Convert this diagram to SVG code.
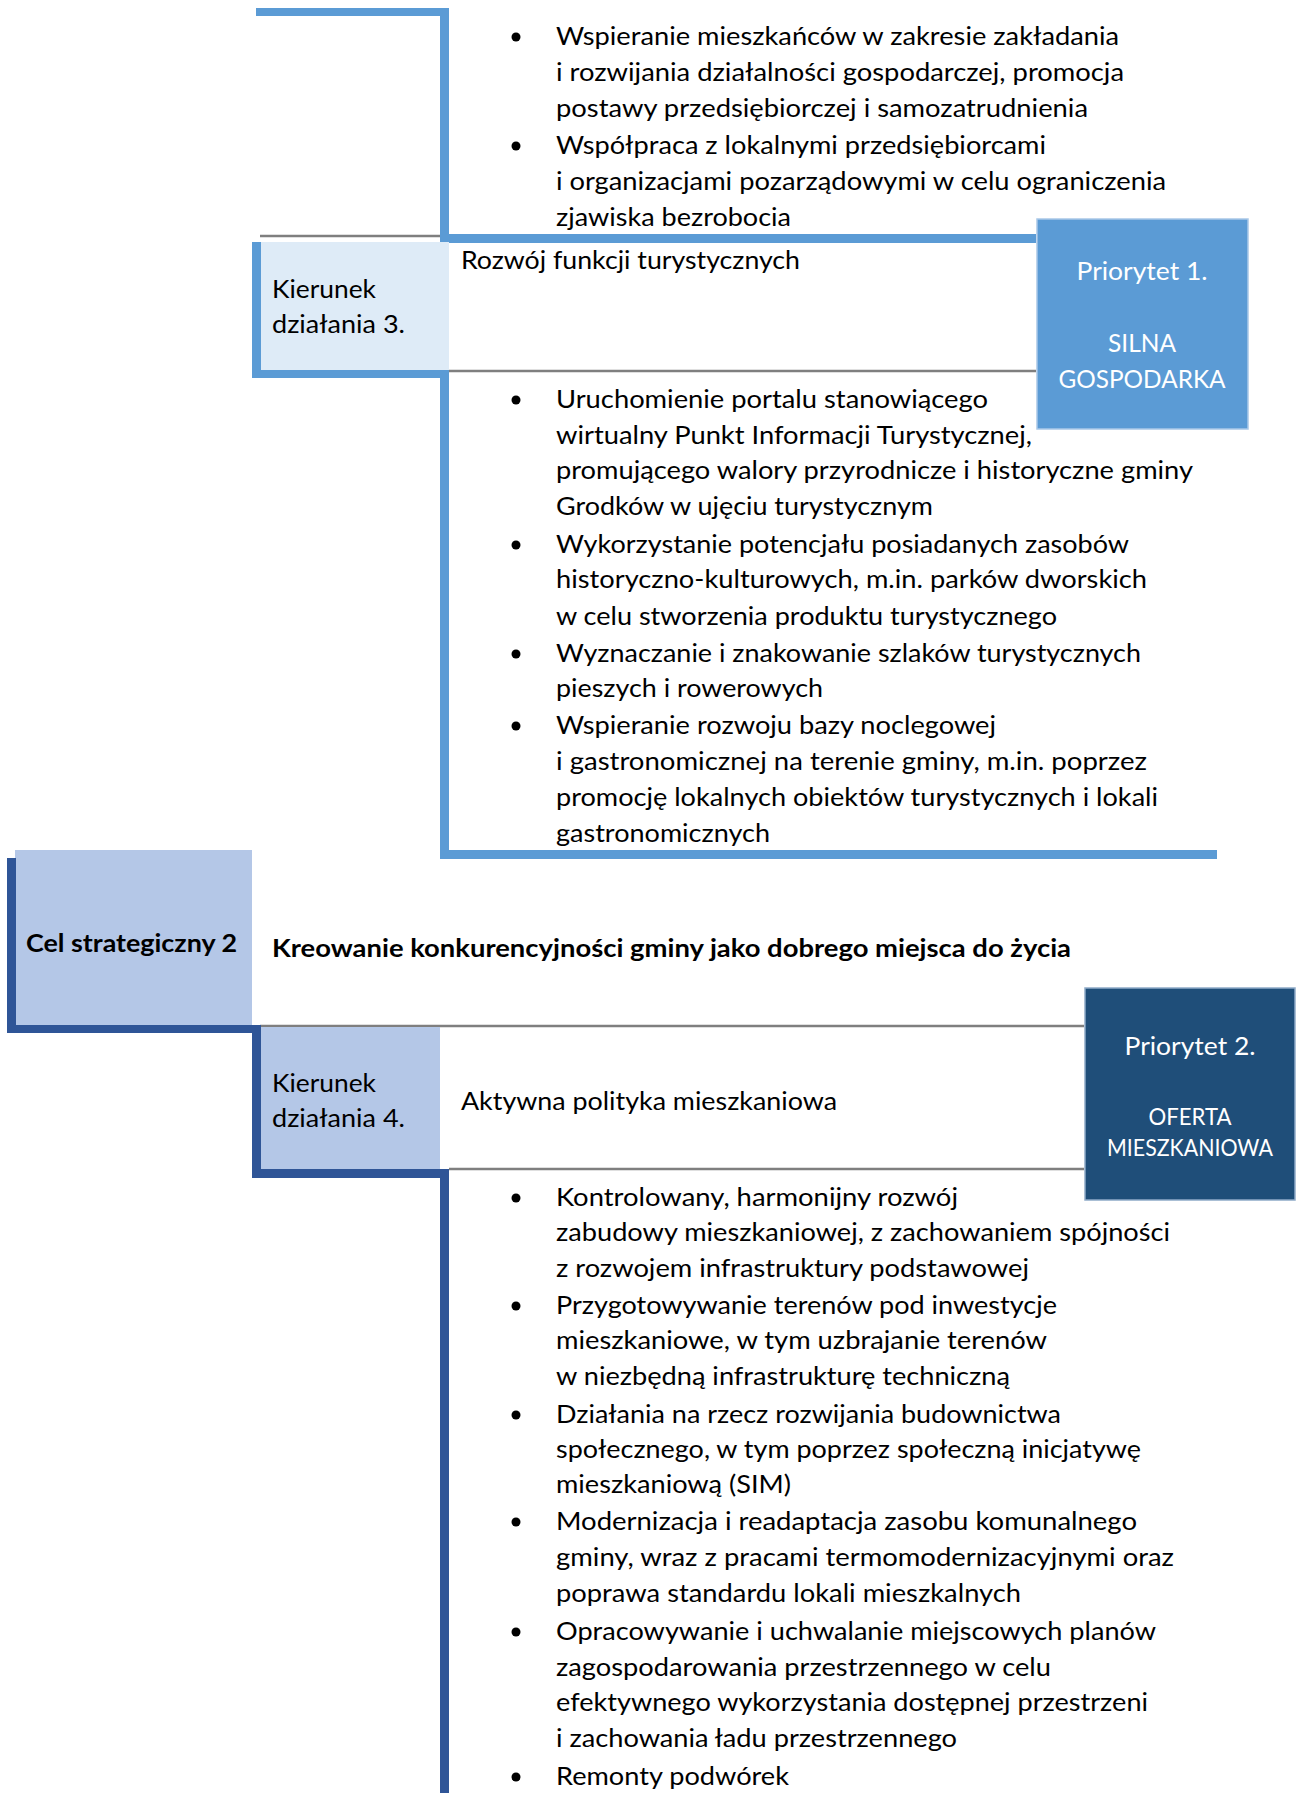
<svg xmlns="http://www.w3.org/2000/svg" width="1301" height="1793" viewBox="0 0 1301 1793">
<style>
.t{font-family:Lato,"Liberation Sans","DejaVu Sans",sans-serif;font-size:25.5px;fill:#000}
.b{font-weight:bold}
.w{fill:#fff;text-anchor:middle}
.lb{fill:#5B9BD5}
.db{fill:#2F5597}
.gr{stroke:#7F7F7F;stroke-width:2.5;fill:none}
.dot{fill:#000}
</style>
<rect width="1301" height="1793" fill="#fff"/>
<g id="connectors">
<line class="gr" x1="260" y1="236" x2="440" y2="236"/>
<line class="gr" x1="449" y1="371" x2="1036" y2="371"/>
<line class="gr" x1="260" y1="1026" x2="1084" y2="1026"/>
<line class="gr" x1="449" y1="1169" x2="1084" y2="1169"/>
<rect class="lb" x="256" y="8" width="193" height="8"/>
<rect class="lb" x="440" y="8" width="9" height="235"/>
<rect class="lb" x="440" y="234" width="596" height="9"/>
<rect class="lb" x="440" y="370" width="9" height="489"/>
<rect class="lb" x="440" y="850" width="777" height="9"/>
<rect class="db" x="440" y="1169" width="9" height="624"/>
</g>
<g id="list-top">
<circle class="dot" cx="516" cy="37" r="4.5"/>
<circle class="dot" cx="516" cy="146" r="4.5"/>
<text class="t" x="556" y="45" textLength="563" lengthAdjust="spacingAndGlyphs">Wspieranie mieszkańców w zakresie zakładania</text>
<text class="t" x="556" y="81" textLength="568" lengthAdjust="spacingAndGlyphs">i rozwijania działalności gospodarczej, promocja</text>
<text class="t" x="556" y="117" textLength="532" lengthAdjust="spacingAndGlyphs">postawy przedsiębiorczej i samozatrudnienia</text>
<text class="t" x="556" y="154" textLength="490" lengthAdjust="spacingAndGlyphs">Współpraca z lokalnymi przedsiębiorcami</text>
<text class="t" x="556" y="190" textLength="610" lengthAdjust="spacingAndGlyphs">i organizacjami pozarządowymi w celu ograniczenia</text>
<text class="t" x="556" y="226" textLength="235" lengthAdjust="spacingAndGlyphs">zjawiska bezrobocia</text>
</g>
<g id="kierunek3">
<rect x="261" y="242" width="188" height="128" fill="#DEEBF7"/>
<rect class="lb" x="252" y="242" width="9" height="136"/>
<rect class="lb" x="252" y="370" width="197" height="8"/>
<text class="t" x="272" y="298" textLength="104" lengthAdjust="spacingAndGlyphs">Kierunek</text>
<text class="t" x="272" y="333" textLength="133" lengthAdjust="spacingAndGlyphs">działania 3.</text>
<text class="t" x="461" y="269" textLength="339" lengthAdjust="spacingAndGlyphs">Rozwój funkcji turystycznych</text>
</g>
<g id="priorytet1">
<rect x="1037" y="219" width="211" height="210" fill="#5B9BD5" stroke="#A9C8E8" stroke-width="1.5"/>
<text class="t w" x="1142" y="280" textLength="131" lengthAdjust="spacingAndGlyphs">Priorytet 1.</text>
<text class="t w" x="1142" y="352" textLength="68" lengthAdjust="spacingAndGlyphs">SILNA</text>
<text class="t w" x="1142" y="388" textLength="167" lengthAdjust="spacingAndGlyphs">GOSPODARKA</text>
</g>
<g id="list-3">
<circle class="dot" cx="516" cy="400" r="4.5"/>
<circle class="dot" cx="516" cy="545" r="4.5"/>
<circle class="dot" cx="516" cy="654" r="4.5"/>
<circle class="dot" cx="516" cy="726" r="4.5"/>
<text class="t" x="556" y="408" textLength="432" lengthAdjust="spacingAndGlyphs">Uruchomienie portalu stanowiącego</text>
<text class="t" x="556" y="444" textLength="476" lengthAdjust="spacingAndGlyphs">wirtualny Punkt Informacji Turystycznej,</text>
<text class="t" x="556" y="479" textLength="637" lengthAdjust="spacingAndGlyphs">promującego walory przyrodnicze i historyczne gminy</text>
<text class="t" x="556" y="515" textLength="377" lengthAdjust="spacingAndGlyphs">Grodków w ujęciu turystycznym</text>
<text class="t" x="556" y="553" textLength="573" lengthAdjust="spacingAndGlyphs">Wykorzystanie potencjału posiadanych zasobów</text>
<text class="t" x="556" y="588" textLength="591" lengthAdjust="spacingAndGlyphs">historyczno-kulturowych, m.in. parków dworskich</text>
<text class="t" x="556" y="625" textLength="501" lengthAdjust="spacingAndGlyphs">w celu stworzenia produktu turystycznego</text>
<text class="t" x="556" y="662" textLength="585" lengthAdjust="spacingAndGlyphs">Wyznaczanie i znakowanie szlaków turystycznych</text>
<text class="t" x="556" y="697" textLength="267" lengthAdjust="spacingAndGlyphs">pieszych i rowerowych</text>
<text class="t" x="556" y="734" textLength="440" lengthAdjust="spacingAndGlyphs">Wspieranie rozwoju bazy noclegowej</text>
<text class="t" x="556" y="770" textLength="591" lengthAdjust="spacingAndGlyphs">i gastronomicznej na terenie gminy, m.in. poprzez</text>
<text class="t" x="556" y="806" textLength="602" lengthAdjust="spacingAndGlyphs">promocję lokalnych obiektów turystycznych i lokali</text>
<text class="t" x="556" y="842" textLength="214" lengthAdjust="spacingAndGlyphs">gastronomicznych</text>
</g>
<g id="cel2">
<rect x="15" y="850" width="237" height="175" fill="#B4C7E7"/>
<rect class="db" x="7" y="858" width="9" height="175"/>
<rect class="db" x="7" y="1025" width="254" height="8"/>
<rect class="db" x="252" y="1025" width="9" height="153"/>
<text class="t b" x="26" y="952" textLength="211" lengthAdjust="spacingAndGlyphs">Cel strategiczny 2</text>
<text class="t b" x="272" y="957" textLength="799" lengthAdjust="spacingAndGlyphs">Kreowanie konkurencyjności gminy jako dobrego miejsca do życia</text>
</g>
<g id="kierunek4">
<rect x="261" y="1027" width="179" height="142" fill="#B4C7E7"/>
<rect class="db" x="252" y="1169" width="197" height="9"/>
<text class="t" x="272" y="1092" textLength="104" lengthAdjust="spacingAndGlyphs">Kierunek</text>
<text class="t" x="272" y="1127" textLength="133" lengthAdjust="spacingAndGlyphs">działania 4.</text>
<text class="t" x="461" y="1110" textLength="376" lengthAdjust="spacingAndGlyphs">Aktywna polityka mieszkaniowa</text>
</g>
<g id="priorytet2">
<rect x="1085" y="988" width="210" height="212" fill="#1F4E79" stroke="#8FAAC8" stroke-width="1.5"/>
<text class="t w" x="1190" y="1055" textLength="131" lengthAdjust="spacingAndGlyphs">Priorytet 2.</text>
<text class="t w" x="1190" y="1125" style="font-size:23px" textLength="83" lengthAdjust="spacingAndGlyphs">OFERTA</text>
<text class="t w" x="1190" y="1156" style="font-size:23px" textLength="166" lengthAdjust="spacingAndGlyphs">MIESZKANIOWA</text>
</g>
<g id="list-4">
<circle class="dot" cx="516" cy="1198" r="4.5"/>
<circle class="dot" cx="516" cy="1306" r="4.5"/>
<circle class="dot" cx="516" cy="1415" r="4.5"/>
<circle class="dot" cx="516" cy="1522" r="4.5"/>
<circle class="dot" cx="516" cy="1632" r="4.5"/>
<circle class="dot" cx="516" cy="1777" r="4.5"/>
<text class="t" x="556" y="1206" textLength="402" lengthAdjust="spacingAndGlyphs">Kontrolowany, harmonijny rozwój</text>
<text class="t" x="556" y="1241" textLength="614" lengthAdjust="spacingAndGlyphs">zabudowy mieszkaniowej, z zachowaniem spójności</text>
<text class="t" x="556" y="1277" textLength="473" lengthAdjust="spacingAndGlyphs">z rozwojem infrastruktury podstawowej</text>
<text class="t" x="556" y="1314" textLength="501" lengthAdjust="spacingAndGlyphs">Przygotowywanie terenów pod inwestycje</text>
<text class="t" x="556" y="1349" textLength="491" lengthAdjust="spacingAndGlyphs">mieszkaniowe, w tym uzbrajanie terenów</text>
<text class="t" x="556" y="1385" textLength="454" lengthAdjust="spacingAndGlyphs">w niezbędną infrastrukturę techniczną</text>
<text class="t" x="556" y="1423" textLength="505" lengthAdjust="spacingAndGlyphs">Działania na rzecz rozwijania budownictwa</text>
<text class="t" x="556" y="1458" textLength="585" lengthAdjust="spacingAndGlyphs">społecznego, w tym poprzez społeczną inicjatywę</text>
<text class="t" x="556" y="1493" textLength="235" lengthAdjust="spacingAndGlyphs">mieszkaniową (SIM)</text>
<text class="t" x="556" y="1530" textLength="581" lengthAdjust="spacingAndGlyphs">Modernizacja i readaptacja zasobu komunalnego</text>
<text class="t" x="556" y="1566" textLength="618" lengthAdjust="spacingAndGlyphs">gminy, wraz z pracami termomodernizacyjnymi oraz</text>
<text class="t" x="556" y="1602" textLength="465" lengthAdjust="spacingAndGlyphs">poprawa standardu lokali mieszkalnych</text>
<text class="t" x="556" y="1640" textLength="600" lengthAdjust="spacingAndGlyphs">Opracowywanie i uchwalanie miejscowych planów</text>
<text class="t" x="556" y="1676" textLength="495" lengthAdjust="spacingAndGlyphs">zagospodarowania przestrzennego w celu</text>
<text class="t" x="556" y="1711" textLength="592" lengthAdjust="spacingAndGlyphs">efektywnego wykorzystania dostępnej przestrzeni</text>
<text class="t" x="556" y="1747" textLength="401" lengthAdjust="spacingAndGlyphs">i zachowania ładu przestrzennego</text>
<text class="t" x="556" y="1785" textLength="233" lengthAdjust="spacingAndGlyphs">Remonty podwórek</text>
</g>
</svg>
